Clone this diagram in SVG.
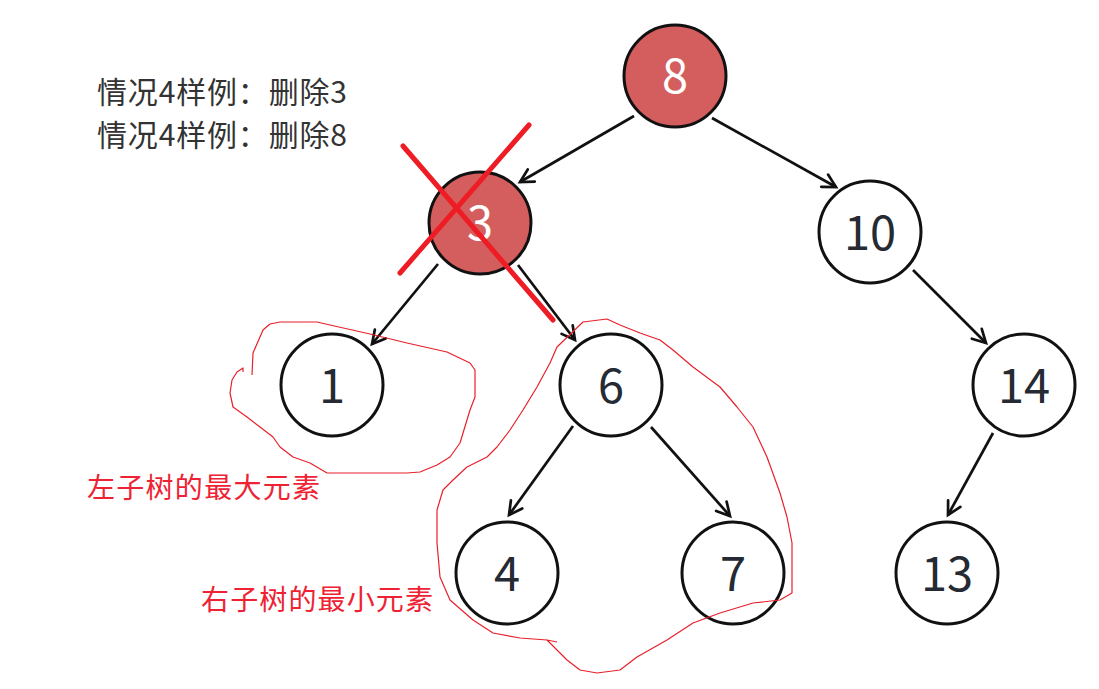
<svg xmlns="http://www.w3.org/2000/svg" width="1099" height="689" viewBox="0 0 1099 689">
<style>
.node circle{fill:#fff;stroke:#111;stroke-width:3}
.node.red circle{fill:#d35e5d}
.node text{font-family:"Noto Sans CJK SC","Noto Sans",sans-serif;font-size:47px;fill:#252a33;text-anchor:middle}
.node.red text{fill:#fff}
.edge{stroke:#111;stroke-width:2.7;fill:none;marker-end:url(#arr)}
.note{font-family:"Noto Sans CJK SC",sans-serif;font-size:30px;fill:#333}
.lbl{font-family:"Noto Sans CJK SC",sans-serif;font-size:28px;fill:#ee2233}
.scribble{fill:none;stroke:#e8202a;stroke-width:1.2;stroke-linejoin:round}
</style>
<defs>
<marker id="arr" markerUnits="userSpaceOnUse" markerWidth="30" markerHeight="30" viewBox="-15 -15 30 30" refX="0" refY="0" orient="auto">
<path d="M-13,-7 L0,0 L-13,7" fill="none" stroke="#111" stroke-width="2.7" stroke-linecap="round" stroke-linejoin="miter"/>
</marker>
</defs>
<rect width="1099" height="689" fill="#fff"/>
<g id="notes">
<text class="note" x="97" y="103" textLength="250" lengthAdjust="spacing">情况4样例：删除3</text>
<text class="note" x="97" y="146" textLength="250" lengthAdjust="spacing">情况4样例：删除8</text>
</g>
<g id="connectors">
<line class="edge" x1="634" y1="116" x2="520" y2="182"/>
<line class="edge" x1="712" y1="118" x2="836" y2="187"/>
<line class="edge" x1="438" y1="264" x2="372" y2="344"/>
<line class="edge" x1="518" y1="265" x2="575" y2="340"/>
<line class="edge" x1="573" y1="426" x2="509" y2="515"/>
<line class="edge" x1="651" y1="427" x2="730" y2="516"/>
<line class="edge" x1="913" y1="270" x2="986" y2="343"/>
<line class="edge" x1="993" y1="433" x2="948" y2="515"/>
</g>
<g id="n8" class="node red"><circle cx="675" cy="76" r="51"/><text x="675" y="93">8</text></g>
<g id="n3" class="node red"><circle cx="480" cy="223" r="51"/><text x="480" y="240">3</text></g>
<g id="n10" class="node"><circle cx="870" cy="232" r="51"/><text x="870" y="250">10</text></g>
<g id="n1" class="node"><circle cx="332" cy="385" r="51"/><text x="332" y="403">1</text></g>
<g id="n6" class="node"><circle cx="611" cy="385" r="51"/><text x="611" y="403">6</text></g>
<g id="n14" class="node"><circle cx="1024" cy="385" r="51"/><text x="1024" y="403">14</text></g>
<g id="n4" class="node"><circle cx="507" cy="573" r="51"/><text x="507" y="591">4</text></g>
<g id="n7" class="node"><circle cx="733" cy="573" r="51"/><text x="733" y="591">7</text></g>
<g id="n13" class="node"><circle cx="947" cy="573" r="51"/><text x="947" y="591">13</text></g>
<g id="cross">
<line x1="403" y1="146" x2="553" y2="320" stroke="#ee1c25" stroke-width="5" stroke-linecap="round"/>
<line x1="529" y1="125" x2="400" y2="273" stroke="#ee1c25" stroke-width="5" stroke-linecap="round"/>
</g>
<g id="scribbles">
<path class="scribble" d="M252,375 L253,353 L263,330 L270,324 L280,322 L317,322 L330,325 L370,334 L407,343 L447,352 L470,363 L475,370 L475,397 L470,410 L460,443 L450,457 L437,465 L420,472 L407,473 L327,473 L310,463 L293,457 L280,447 L273,437 L260,427 L247,417 L233,407 L230,393 L232,380 L237,372 L243,368 L243,372"/>
<path class="scribble" d="M557,642 L547,640 L557,650 L567,660 L580,670 L597,673 L620,670 L637,657 L667,640 L693,623 L720,613 L753,603 L780,600 L792,593 L792,543 L787,517 L780,493 L767,457 L753,427 L737,407 L720,387 L693,367 L673,350 L660,340 L640,333 L620,325 L607,319 L583,322 L557,347 L550,363 L537,387 L523,410 L510,430 L497,447 L487,457 L467,467 L453,480 L443,490 L437,510 L437,543 L440,577 L450,600 L473,620 L493,633 L520,638 L547,640"/>
</g>
<g id="labels">
<text class="lbl" x="87" y="498" textLength="233" lengthAdjust="spacing">左子树的最大元素</text>
<text class="lbl" x="201" y="610" textLength="232" lengthAdjust="spacing">右子树的最小元素</text>
</g>
</svg>
